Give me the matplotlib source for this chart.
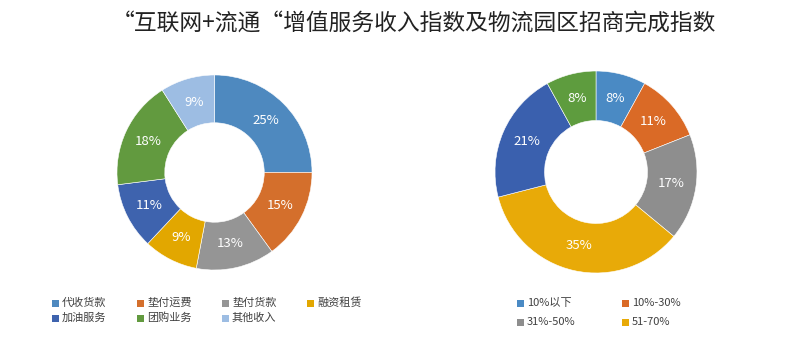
import matplotlib
matplotlib.use("Agg")
import matplotlib.pyplot as plt
from matplotlib.patches import Rectangle

plt.rcParams['font.family'] = ['Noto Sans CJK SC', 'DejaVu Sans']

title = "“互联网+流通“增值服务收入指数及物流园区招商完成指数"

left_labels = ["代收货款", "垫付运费", "垫付货款", "融资租赁", "加油服务", "团购业务", "其他收入"]
left_values = [25, 15, 13, 9, 11, 18, 9]
left_colors = ["#4E89BF", "#D46F2C", "#959595", "#E2A700", "#3E63AE", "#629A3F", "#9DBDE3"]

right_labels = ["10%以下", "10%-30%", "31%-50%", "51-70%"]
right_values = [8, 11, 17, 35, 21, 8]
right_colors = ["#4A8AC4", "#DA6A26", "#8E8E8E", "#E8AA08", "#3A60AE", "#5E9C3E"]

W, H = 800, 356
fig = plt.figure(figsize=(W / 100, H / 100), dpi=100)

def px_axes(x0, ytop, size):
    return fig.add_axes([x0 / W, (H - ytop - size) / H, size / W, size / H])

fig.text(414 / W, 1 - 23 / H, title, ha='center', va='center', fontsize=16.4, color='#222222')

def donut(ax, values, colors):
    ax.pie(values, colors=colors, startangle=90, counterclock=False,
           radius=1.0, autopct=lambda p: f"{round(p)}%",
           pctdistance=0.75,
           wedgeprops=dict(width=0.49, edgecolor='white', linewidth=0.4),
           textprops=dict(color='white', fontsize=9.5))
    ax.set_xlim(-1.01, 1.01)
    ax.set_ylim(-1.01, 1.01)
    ax.set_aspect('equal')
    ax.axis('off')

ax1 = px_axes(116, 74, 197)
donut(ax1, left_values, left_colors)
ax2 = px_axes(494, 70, 204)
donut(ax2, right_values, right_colors)

def legend(labels, colors, x0, y0, dx, dy, ncol):
    for i, (lab, c) in enumerate(zip(labels, colors)):
        col, row = i % ncol, i // ncol
        x = x0 + col * dx
        y = y0 + row * dy
        fig.patches.append(Rectangle((x / W, (H - y - 3.5) / H), 7 / W, 7 / H,
                                     transform=fig.transFigure, facecolor=c, edgecolor='none'))
        fig.text((x + 10) / W, 1 - y / H, lab, ha='left', va='center', fontsize=8, color='#404040')

legend(left_labels, left_colors, 52, 303, 85, 15, 4)
legend(right_labels, right_colors[:4], 517, 303, 105, 19, 2)

fig.savefig("out.png", dpi=100)
